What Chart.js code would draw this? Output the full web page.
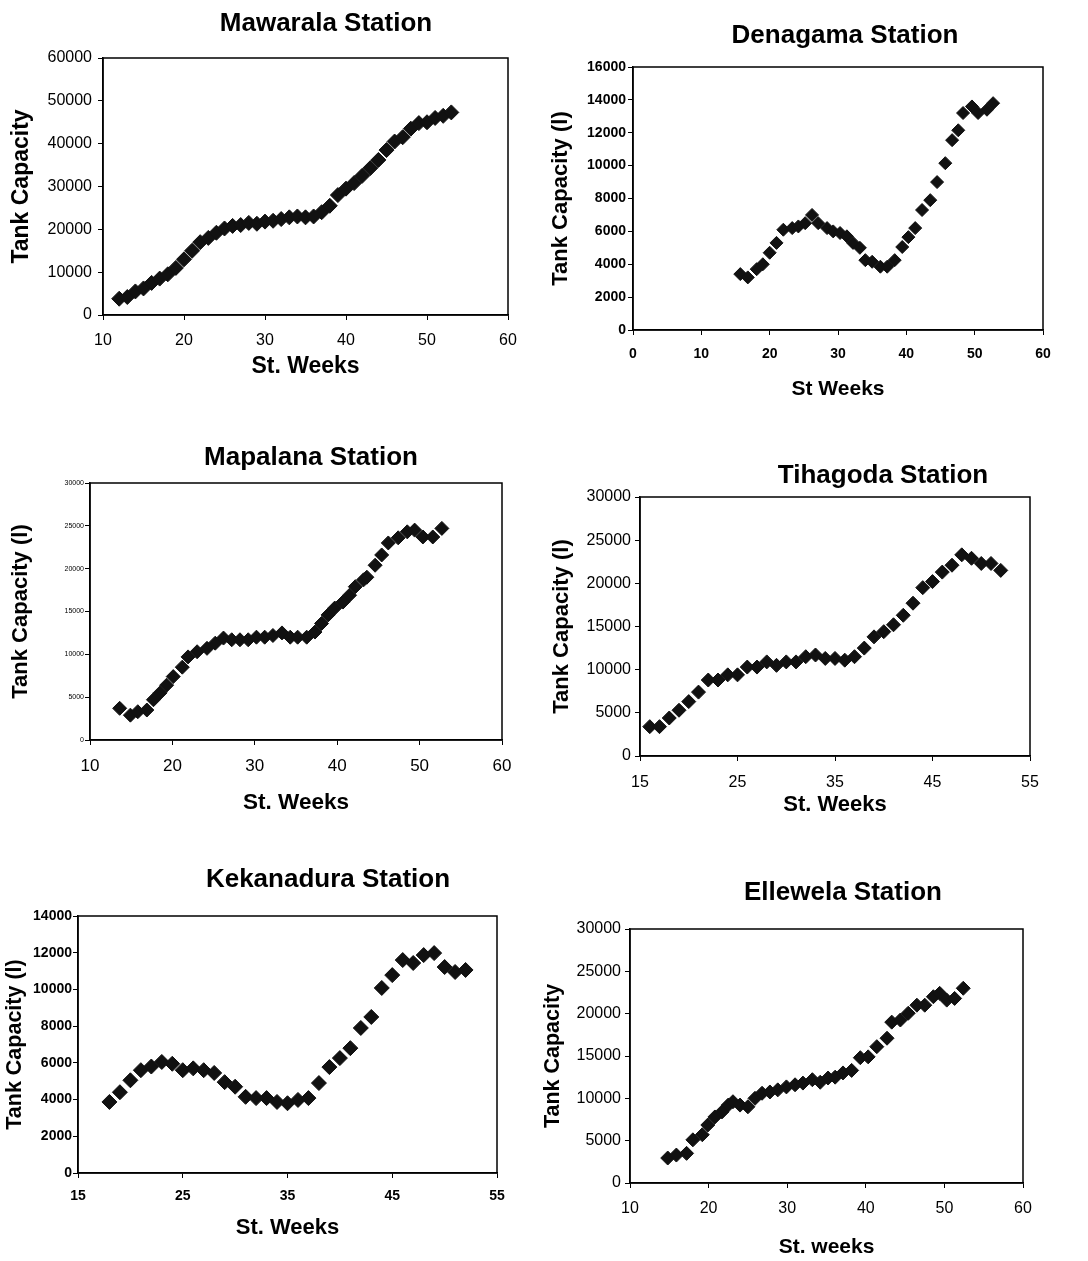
<!DOCTYPE html>
<html>
<head>
<meta charset="utf-8">
<title>Tank Capacity by Station</title>
<script src="https://cdn.jsdelivr.net/npm/chart.js@4.4.1/dist/chart.umd.min.js"></script>
<style>
  html, body { margin: 0; padding: 0; background: #fff; overflow: hidden; }
  body { width: 1088px; height: 1261px; position: relative; }
  canvas { position: absolute; }
</style>
</head>
<body>
<canvas id="mawarala"></canvas>
<canvas id="denagama"></canvas>
<canvas id="mapalana"></canvas>
<canvas id="tihagoda"></canvas>
<canvas id="kekanadura"></canvas>
<canvas id="ellewela"></canvas>
<script>
// values (week, litres)
const mawaralaWeeks = [12, 13, 14, 15, 16, 17, 18, 19, 20, 21, 22, 23, 24, 25, 26, 27, 28, 29, 30, 31, 32,
    33, 34, 35, 36, 37, 38, 39, 40, 41, 42, 43, 44, 45, 46, 47, 48, 49, 50, 51, 52, 53];
const mawaralaCapacity = [3800, 4200, 5500, 6200, 7500, 8500, 9500, 11000, 13000, 15000, 17000, 18000,
    19200, 20200, 20800, 21000, 21500, 21300, 21800, 22000, 22400, 22800, 23000, 22800, 23000, 24000,
    25500, 28000, 29500, 30800, 32500, 34300, 36200, 38500, 40500, 41500, 43500, 44800, 45000, 46000,
    46500, 47300];

const denagamaWeeks = [15.7, 16.8, 18.1, 19, 20, 21, 22, 23.3, 24.2, 25.2, 26.2, 27.1, 28.4, 29.3, 30.3,
    31.3, 32.2, 33.2, 34, 35, 36.2, 37.2, 38.3, 39.4, 40.3, 41.3, 42.3, 43.5, 44.5, 45.7, 46.7, 47.6,
    48.3, 49.6, 50.5, 51.8, 52.7];
const denagamaCapacity = [3400, 3200, 3700, 4000, 4700, 5300, 6100, 6200, 6300, 6500, 7000, 6500, 6200,
    6000, 5900, 5700, 5300, 5000, 4250, 4150, 3850, 3850, 4250, 5050, 5650, 6200, 7300, 7900, 9000,
    10150, 11550, 12150, 13200, 13600, 13200, 13400, 13800];

const mapalanaWeeks = [13.6, 14.9, 15.8, 16.9, 17.7, 18.5, 19.3, 20.1, 21.2, 21.9, 23, 24.2, 25.2, 26.2,
    27.2, 28.2, 29.2, 30.2, 31.2, 32.2, 33.3, 34.3, 35.2, 36.3, 37.3, 38.1, 38.9, 39.7, 40.7, 41.5, 42.2,
    43.2, 43.6, 44.6, 45.4, 46.2, 47.4, 48.5, 49.4, 50.4, 51.6, 52.7];
const mapalanaCapacity = [3700, 2900, 3300, 3500, 4700, 5500, 6400, 7400, 8500, 9700, 10300, 10700,
    11300, 11900, 11700, 11700, 11700, 12000, 12000, 12200, 12500, 12000, 12000, 12000, 12600, 13600,
    14600, 15400, 16100, 16900, 17900, 18700, 19000, 20400, 21600, 23000, 23600, 24300, 24500, 23700,
    23700, 24700];

const tihagodaWeeks = [16, 17, 18, 19, 20, 21, 22, 23, 24, 25, 26, 27, 28, 29, 30, 31, 32, 33, 34, 35,
    36, 37, 38, 39, 40, 41, 42, 43, 44, 45, 46, 47, 48, 49, 50, 51, 52];
const tihagodaCapacity = [3400, 3400, 4400, 5300, 6300, 7400, 8800, 8800, 9400, 9400, 10300, 10300,
    10900, 10500, 10900, 10900, 11500, 11700, 11300, 11300, 11100, 11500, 12500, 13800, 14400, 15200,
    16300, 17700, 19500, 20200, 21300, 22100, 23300, 22900, 22300, 22300, 21500];

const kekanaduraWeeks = [18, 19, 20, 21, 22, 23, 24, 25, 26, 27, 28, 29, 30, 31, 32, 33, 34, 35, 36, 37,
    38, 39, 40, 41, 42, 43, 44, 45, 46, 47, 48, 49, 50, 51, 52];
const kekanaduraCapacity = [3870, 4400, 5050, 5600, 5800, 6050, 5950, 5600, 5700, 5600, 5450, 4950, 4700,
    4150, 4080, 4080, 3870, 3800, 3980, 4080, 4900, 5770, 6260, 6800, 7900, 8500, 10080, 10780, 11600,
    11440, 11870, 11980, 11220, 10950, 11060];

const ellewelaWeeks = [14.8, 15.9, 17.2, 18, 19.2, 19.9, 20.8, 21.7, 22.5, 23.1, 24, 25, 25.9, 26.8, 27.8,
    28.8, 29.9, 31, 32, 33.2, 34.2, 35.2, 36.1, 37.1, 38.2, 39.3, 40.3, 41.4, 42.7, 43.3, 44.4, 45.4,
    46.5, 47.5, 48.6, 49.4, 50.3, 51.3, 52.4];
const ellewelaCapacity = [2950, 3300, 3500, 5100, 5700, 6850, 7800, 8400, 9200, 9600, 9200, 9000, 10000,
    10600, 10750, 11000, 11350, 11600, 11800, 12200, 11900, 12400, 12500, 13000, 13300, 14800, 14900,
    16100, 17100, 19000, 19250, 20050, 21000, 21000, 22000, 22400, 21600, 21800, 23000];

// axis ranges [min, max, step]
const mawaralaX = [10, 60, 10], mawaralaY = [0, 60000, 10000];
const denagamaX = [0, 60, 10], denagamaY = [0, 16000, 2000];
const mapalanaX = [10, 60, 10], mapalanaY = [0, 30000, 5000];
const tihagodaX = [15, 55, 10], tihagodaY = [0, 30000, 5000];
const kekanaduraX = [15, 55, 10], kekanaduraY = [0, 14000, 2000];
const ellewelaX = [10, 60, 10], ellewelaY = [0, 30000, 5000];

const FONT = "'Liberation Sans', Arial, sans-serif";
const NARROW = "'Liberation Sans Narrow', 'Liberation Sans', Arial, sans-serif";
const TITLE_SIZE = 26;

// draws the top and right sides of the plot frame
const framePlugin = {
    id: 'frame',
    beforeDatasetsDraw(chart) {
        const { ctx, chartArea: a } = chart;
        ctx.save();
        ctx.strokeStyle = '#000';
        ctx.lineWidth = 1.5;
        ctx.strokeRect(a.left, a.top, a.right - a.left, a.bottom - a.top);
        ctx.restore();
    }
};

function buildChart(id, weeks, capacity, xRange, yRange, g) {
    const canvas = document.getElementById(id);
    const width = Math.round(2 * (g.titleX - g.left));
    const height = Math.round(g.xTitleY + 4 + g.xTitleSize * 0.6 - g.top);
    canvas.width = width;
    canvas.height = height;
    canvas.style.left = g.left + 'px';
    canvas.style.top = g.top + 'px';

    const titleLine = TITLE_SIZE * 1.2;
    const padTop = g.titleY - g.top - titleLine / 2;
    const padBottom = g.plot[1] - g.top - padTop - titleLine;
    const yWidth = g.plot[0] - g.left;
    const xHeight = g.top + height - g.plot[3];
    const rightSpace = g.left + width - g.plot[2];

    return new Chart(canvas, {
        type: 'scatter',
        data: {
            datasets: [{
                data: weeks.map((w, i) => ({ x: w, y: capacity[i] })),
                pointStyle: 'rectRot',
                pointRadius: g.radius,
                backgroundColor: '#111',
                borderColor: '#111',
                borderWidth: 1
            }]
        },
        options: {
            responsive: false,
            animation: false,
            layout: { padding: 0 },
            plugins: {
                legend: { display: false },
                tooltip: { enabled: false },
                title: {
                    display: true,
                    text: g.title,
                    color: '#000',
                    font: { family: FONT, size: TITLE_SIZE, weight: 'bold' },
                    padding: { top: padTop, bottom: padBottom }
                }
            },
            scales: {
                x: {
                    type: 'linear',
                    min: xRange[0], max: xRange[1],
                    afterFit: s => { s.height = xHeight; },
                    ticks: {
                        stepSize: xRange[2], color: '#000', maxRotation: 0, autoSkip: false,
                        padding: g.xPad,
                        callback: v => String(v),
                        font: { family: g.tickFamily || FONT, size: g.xTickSize, weight: g.tickWeight || 'normal' }
                    },
                    grid: { drawOnChartArea: false, drawTicks: true, tickLength: 5, color: '#000' },
                    border: { display: true, color: '#000', width: 1.5 },
                    title: {
                        display: true, text: g.xTitle, color: '#000',
                        font: { family: FONT, size: g.xTitleSize, weight: 'bold' },
                        padding: { top: 0, bottom: 4 }
                    }
                },
                y: {
                    min: yRange[0], max: yRange[1],
                    afterFit: s => { s.width = yWidth; },
                    ticks: {
                        stepSize: yRange[2], color: '#000', autoSkip: false,
                        padding: g.yPad,
                        callback: v => String(v),
                        font: { family: g.tickFamily || FONT, size: g.yTickSize, weight: g.tickWeight || 'normal' }
                    },
                    grid: { drawOnChartArea: false, drawTicks: true, tickLength: 5, color: '#000' },
                    border: { display: true, color: '#000', width: 1.5 },
                    title: {
                        display: true, text: g.yTitle, color: '#000',
                        font: { family: FONT, size: g.yTitleSize, weight: 'bold' },
                        padding: { top: Math.max(0, g.yTitleX - g.left - g.yTitleSize * 0.6), bottom: 0 }
                    }
                },
                // empty spacer on the right so the title centres over the whole canvas
                spacer: {
                    position: 'right',
                    afterFit: s => { s.width = rightSpace; },
                    ticks: { display: false },
                    grid: { display: false },
                    border: { display: false }
                }
            }
        },
        plugins: [framePlugin]
    });
}

buildChart('mawarala', mawaralaWeeks, mawaralaCapacity, mawaralaX, mawaralaY, {
    title: 'Mawarala Station', xTitle: 'St. Weeks', yTitle: 'Tank Capacity',
    left: 0, top: 0, plot: [103, 58, 508, 315], titleX: 326, titleY: 24,
    yTitleX: 22, xTitleY: 366, xTitleSize: 23, yTitleSize: 23,
    xTickSize: 16, yTickSize: 16, xPad: 11, yPad: 6, radius: 7.5
});

buildChart('denagama', denagamaWeeks, denagamaCapacity, denagamaX, denagamaY, {
    title: 'Denagama Station', xTitle: 'St Weeks', yTitle: 'Tank Capacity (l)',
    left: 545, top: 0, plot: [633, 67, 1043, 330], titleX: 845, titleY: 36,
    yTitleX: 561, xTitleY: 389, xTitleSize: 21, yTitleSize: 22,
    xTickSize: 14, yTickSize: 14, xPad: 11, yPad: 2, radius: 6.5,
    tickFamily: NARROW, tickWeight: 'bold'
});

buildChart('mapalana', mapalanaWeeks, mapalanaCapacity, mapalanaX, mapalanaY, {
    title: 'Mapalana Station', xTitle: 'St. Weeks', yTitle: 'Tank Capacity (l)',
    left: 0, top: 420, plot: [90, 483, 502, 740], titleX: 311, titleY: 458,
    yTitleX: 21, xTitleY: 802, xTitleSize: 22.5, yTitleSize: 22,
    xTickSize: 17, yTickSize: 7, xPad: 11, yPad: 1, radius: 7
});

buildChart('tihagoda', tihagodaWeeks, tihagodaCapacity, tihagodaX, tihagodaY, {
    title: 'Tihagoda Station', xTitle: 'St. Weeks', yTitle: 'Tank Capacity (l)',
    left: 545, top: 430, plot: [640, 497, 1030, 756], titleX: 883, titleY: 476,
    yTitleX: 562, xTitleY: 805, xTitleSize: 22, yTitleSize: 22,
    xTickSize: 16, yTickSize: 16, xPad: 12, yPad: 4, radius: 7
});

buildChart('kekanadura', kekanaduraWeeks, kekanaduraCapacity, kekanaduraX, kekanaduraY, {
    title: 'Kekanadura Station', xTitle: 'St. Weeks', yTitle: 'Tank Capacity (l)',
    left: 0, top: 840, plot: [78, 916, 497, 1173], titleX: 328, titleY: 880,
    yTitleX: 15, xTitleY: 1228, xTitleSize: 22, yTitleSize: 21.5,
    xTickSize: 14, yTickSize: 14, xPad: 10, yPad: 1, radius: 7.5,
    tickFamily: NARROW, tickWeight: 'bold'
});

buildChart('ellewela', ellewelaWeeks, ellewelaCapacity, ellewelaX, ellewelaY, {
    title: 'Ellewela Station', xTitle: 'St. weeks', yTitle: 'Tank Capacity',
    left: 540, top: 850, plot: [630, 929, 1023, 1183], titleX: 843, titleY: 893,
    yTitleX: 553, xTitleY: 1247, xTitleSize: 21, yTitleSize: 21.5,
    xTickSize: 16, yTickSize: 16, xPad: 11, yPad: 4, radius: 7
});
</script>
</body>
</html>
